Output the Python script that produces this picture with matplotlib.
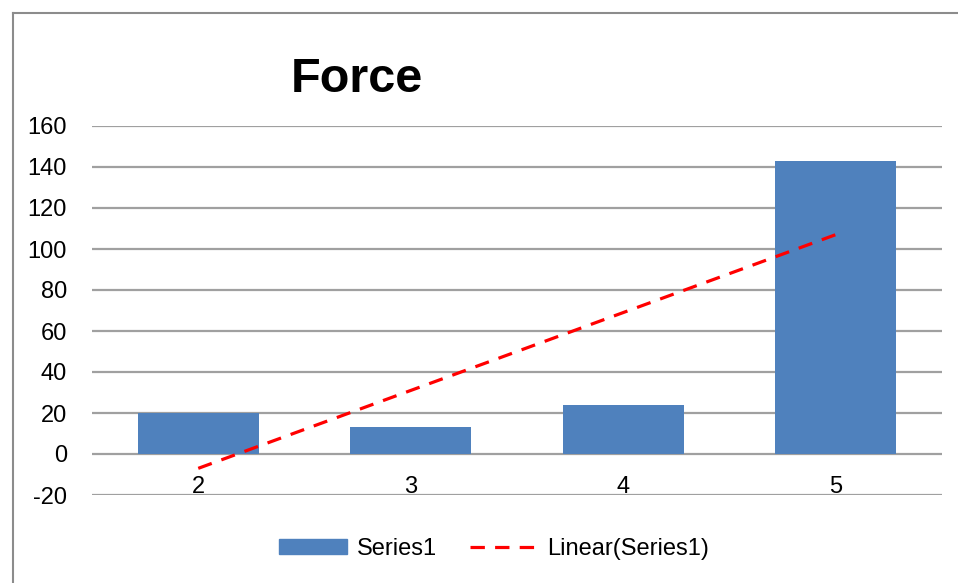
import numpy as np
import matplotlib.pyplot as plt
from matplotlib.patches import Patch
from matplotlib.lines import Line2D

plt.rcParams['font.family'] = ['Liberation Sans', 'DejaVu Sans']

categories = ['2', '3', '4', '5']
values = [20, 13, 24, 143]
yticks = [-20, 0, 20, 40, 60, 80, 100, 120, 140, 160]

bar_color = '#4F81BD'
grid_color = '#a0a0a0'

W, H = 958, 583
fig = plt.figure(figsize=(W / 100, H / 100), dpi=100)
ax = fig.add_axes([92 / W, (H - 495) / H, 850 / W, (495 - 126) / H])

x = np.arange(len(categories))
ax.bar(x, values, width=0.57, color=bar_color, zorder=2)

# excel style linear trendline over series index 1..n
idx = x + 1
k, b = np.polyfit(idx, values, 1)
ax.plot(x, k * idx + b, color='red', lw=2.3, linestyle=(0, (4.5, 3.2)), zorder=3)

ax.set_xlim(-0.5, len(categories) - 0.5)
ax.set_ylim(-20, 160)
ax.set_yticks(yticks)
ax.set_yticklabels([str(t) for t in yticks], fontsize=17)
ax.tick_params(axis='y', length=0, pad=18)
ax.set_xticks([])
for s in ax.spines.values():
    s.set_visible(False)
ax.grid(axis='y', color=grid_color, lw=1.6, zorder=0)
ax.set_axisbelow(True)

# category labels sit just above the bottom gridline
for xi, c in zip(x, categories):
    ax.text(xi, -16.2, c, ha='center', va='center', fontsize=17)

fig.text(357 / W, 1 - 80 / H, 'Force', ha='center', va='center',
         fontsize=35, fontweight='bold')

handles = [Patch(color=bar_color),
           Line2D([0], [0], color='red', lw=2.3, linestyle=(0, (4.5, 3.2)))]
fig.legend(handles, ['Series1', 'Linear(Series1)'], loc='center',
           bbox_to_anchor=(494 / W, 1 - 549 / H), ncol=2, frameon=False,
           fontsize=17, handlelength=2.9, handleheight=0.6,
           handletextpad=0.4, columnspacing=1.4)

# outer chart border (only left and top visible in the crop)
fig.add_artist(Line2D([13 / W, 13 / W], [0, 1 - 13 / H], color='#8c8c8c', lw=1.5))
fig.add_artist(Line2D([13 / W, 1], [1 - 13 / H, 1 - 13 / H], color='#8c8c8c', lw=1.5))

fig.savefig('out.png', dpi=100)
